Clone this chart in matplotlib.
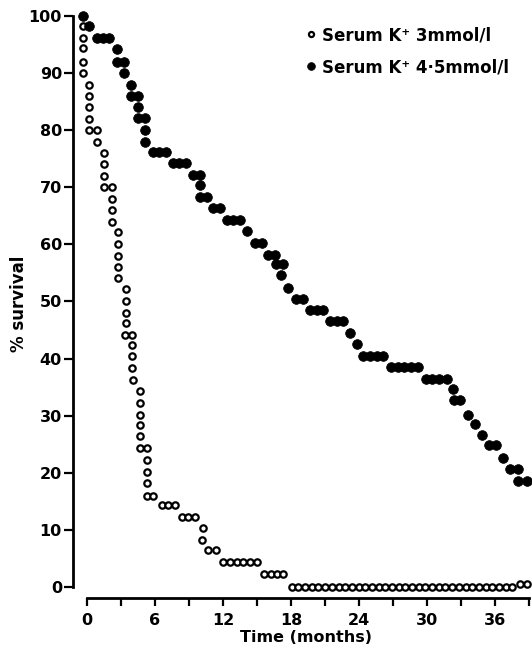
import matplotlib
matplotlib.use("Agg")
import matplotlib.pyplot as plt

plt.rcParams['font.family'] = ['DejaVu Sans']
plt.rcParams['font.weight'] = 'bold'

# Survival curve points, serum K+ 3 mmol/l (months, % surviving)
low_k_months = [-0.38, -0.38, -0.38, -0.38, -0.38,
                0.20, 0.20, 0.20, 0.20, 0.20, 0.86, 0.86,
                1.53, 1.53, 1.53, 1.53, 2.18, 2.18, 2.18, 2.18,
                2.77, 2.77, 2.77, 2.77, 2.77,
                3.44, 3.44, 3.44, 3.44, 3.35, 4.00, 4.00, 4.00, 4.00, 4.09,
                4.68, 4.68, 4.68, 4.68, 4.68, 4.68,
                5.27, 5.27, 5.27, 5.27, 5.27, 5.85,
                6.59, 7.18, 7.77, 8.36, 8.94, 9.53,
                10.20, 10.15, 10.71, 11.36,
                11.98, 12.62, 13.21, 13.80, 14.39, 14.98,
                15.62, 16.20, 16.77, 17.34,
                18.07, 18.66, 19.25, 19.84, 20.43, 21.02, 21.61, 22.20,
                22.79, 23.38, 23.97, 24.56, 25.15, 25.74, 26.33, 26.92,
                27.51, 28.10, 28.69, 29.28, 29.87, 30.46, 31.05, 31.64,
                32.23, 32.82, 33.41, 34.00, 34.59, 35.18, 35.77, 36.36,
                36.95, 37.54, 38.20, 38.86]
low_k_survival = [98.3, 96.1, 94.4, 92.0, 90.0,
                  88.0, 86.0, 84.0, 82.0, 80.0, 80.0, 78.0,
                  76.0, 74.0, 72.0, 70.0, 70.0, 68.0, 66.0, 64.0,
                  62.2, 60.0, 58.0, 56.0, 54.2,
                  52.2, 50.0, 48.0, 46.3, 44.2, 44.2, 42.3, 40.4, 38.4, 36.2,
                  34.4, 32.2, 30.1, 28.4, 26.5, 24.3,
                  24.3, 22.2, 20.2, 18.2, 16.0, 16.0,
                  14.3, 14.3, 14.3, 12.3, 12.3, 12.3,
                  10.3, 8.2, 6.5, 6.5,
                  4.3, 4.3, 4.3, 4.3, 4.3, 4.3,
                  2.3, 2.3, 2.3, 2.3,
                  0.0, 0.0, 0.0, 0.0, 0.0, 0.0, 0.0, 0.0,
                  0.0, 0.0, 0.0, 0.0, 0.0, 0.0, 0.0, 0.0,
                  0.0, 0.0, 0.0, 0.0, 0.0, 0.0, 0.0, 0.0,
                  0.0, 0.0, 0.0, 0.0, 0.0, 0.0, 0.0, 0.0,
                  0.0, 0.0, 0.6, 0.6]

# Survival curve points, serum K+ 4.5 mmol/l
norm_k_months = [-0.38, 0.20, 0.86, 1.39, 1.97, 2.62, 2.62, 3.27, 3.27,
                 3.88, 3.88, 4.47, 4.47, 4.47, 5.12, 5.12, 5.12,
                 5.80, 6.38, 6.97, 7.56, 8.15, 8.74, 9.38, 9.97, 9.97, 9.97, 10.56,
                 11.15, 11.74, 12.33, 12.91, 13.50, 14.15, 14.83, 15.42,
                 16.00, 16.59, 16.68, 17.27, 17.10, 17.77, 18.45, 19.04,
                 19.68, 20.27, 20.86, 21.45, 22.04, 22.62, 23.21, 23.86,
                 24.39, 24.98, 25.57, 26.15, 26.83, 27.42, 28.00, 28.60, 29.19,
                 29.89, 30.48, 31.07, 31.75, 32.33, 32.40, 32.92,
                 33.65, 34.24, 34.84, 35.51, 36.10, 36.74, 37.33, 38.01,
                 38.07, 38.83]
norm_k_survival = [100.0, 98.2, 96.1, 96.1, 96.1, 94.2, 91.9, 91.9, 90.0,
                   87.9, 86.0, 86.0, 84.1, 82.1, 82.1, 80.1, 78.0,
                   76.2, 76.2, 76.2, 74.2, 74.2, 74.2, 72.1, 72.1, 70.4, 68.3, 68.3,
                   66.3, 66.3, 64.2, 64.2, 64.2, 62.3, 60.3, 60.3,
                   58.2, 58.2, 56.5, 56.5, 54.6, 52.4, 50.4, 50.4,
                   48.5, 48.5, 48.5, 46.5, 46.5, 46.5, 44.4, 42.5,
                   40.5, 40.5, 40.5, 40.5, 38.5, 38.5, 38.5, 38.5, 38.5,
                   36.5, 36.5, 36.5, 36.5, 34.7, 32.8, 32.8,
                   30.2, 28.6, 26.7, 24.8, 24.8, 22.6, 20.7, 20.7,
                   18.6, 18.6]

legend_labels = ["Serum K\u207a 3mmol/l", "Serum K\u207a 4\u00b75mmol/l"]
y_ticks = [0, 10, 20, 30, 40, 50, 60, 70, 80, 90, 100]
x_ticks = [0, 3, 6, 9, 12, 15, 18, 21, 24, 27, 30, 33, 36, 39]
x_tick_labels = ["0", "", "6", "", "12", "", "18", "", "24", "", "30", "", "36", ""]

W, H = 532, 650
fig = plt.figure(figsize=(W / 100, H / 100), dpi=100)
# axes box in pixels: left, top, right, bottom
L, T, R, B = 73, 10, 530, 598
ax = fig.add_axes([L / W, 1 - B / H, (R - L) / W, (B - T) / H])

ax.set_xlim(-1.24, 39.1)
ax.set_ylim(-1.93, 101.05)

open_line, = ax.plot(low_k_months, low_k_survival, linestyle='none', marker='o',
                     markersize=4.6, markerfacecolor='white', markeredgecolor='black',
                     markeredgewidth=1.6, clip_on=False, zorder=3)
fill_line, = ax.plot(norm_k_months, norm_k_survival, linestyle='none', marker='o',
                     markersize=7.0, markerfacecolor='black', markeredgecolor='black',
                     markeredgewidth=0.5, clip_on=False, zorder=4)

for side in ('top', 'right'):
    ax.spines[side].set_visible(False)
ax.spines['left'].set_linewidth(2.0)
ax.spines['bottom'].set_linewidth(2.0)
ax.spines['left'].set_bounds(0, 100)
ax.spines['bottom'].set_bounds(0, 39)

ax.set_yticks(y_ticks)
ax.set_yticklabels([str(v) for v in y_ticks])
ax.set_xticks(x_ticks)
ax.set_xticklabels(x_tick_labels)
ax.tick_params(axis='y', direction='out', length=6.5, width=1.6, pad=1.5,
               labelsize=11.5)
ax.tick_params(axis='x', direction='out', length=6, width=1.6, pad=5,
               labelsize=11.5)
for lab in ax.get_xticklabels() + ax.get_yticklabels():
    lab.set_fontweight('bold')

ax.set_xlabel("Time (months)", fontsize=11.5, fontweight='bold')
ax.xaxis.set_label_coords((306 - L) / (R - L), (B - 630) / (B - T))
ax.set_ylabel("% survival", fontsize=12, fontweight='bold')
ax.yaxis.set_label_coords((28 - L) / (R - L), 0.5)

ax.legend([open_line, fill_line], legend_labels, loc='upper left',
          bbox_to_anchor=(307 / W, 1 - 26 / H), bbox_transform=fig.transFigure,
          frameon=False, handlelength=0.5, handletextpad=0.4, labelspacing=0.85,
          borderpad=0, borderaxespad=0, markerscale=0.8,
          prop={'weight': 'bold', 'size': 12})

fig.savefig("out.png", dpi=100)
